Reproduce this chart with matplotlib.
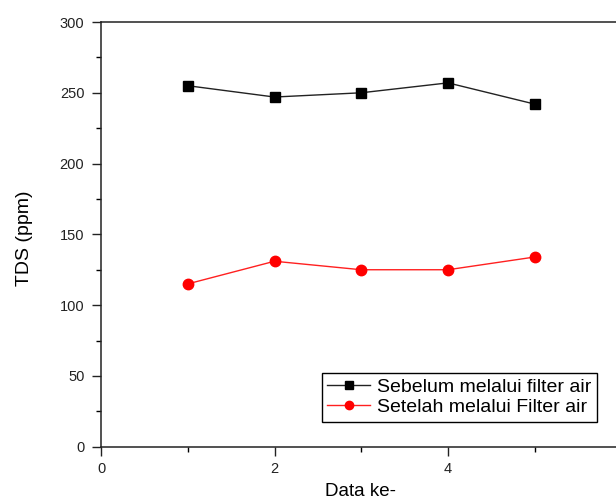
import matplotlib
matplotlib.use("Agg")
import matplotlib.pyplot as plt
from matplotlib.ticker import MultipleLocator, FixedLocator

plt.rcParams["font.family"] = ["Liberation Sans", "DejaVu Sans"]

data_ke = [1, 2, 3, 4, 5]
sebelum = [255, 247, 250, 257, 242]
setelah = [115, 131, 125, 125, 134]

label_sebelum = "Sebelum melalui filter air"
label_setelah = "Setelah melalui Filter air"

W, H = 616, 504
fig = plt.figure(figsize=(W / 100, H / 100), dpi=100)

# axes extend a bit past the right edge of the image, as in the original
left, right, top, bottom = 101, 101 + 6 * 86.75, 22, 446.7
ax = fig.add_axes([left / W, 1 - bottom / H, (right - left) / W, (bottom - top) / H])

ax.plot(data_ke, sebelum, color="#222222", lw=1.0, marker="s", ms=7,
        mfc="black", mec="black", label=label_sebelum)
ax.plot(data_ke, setelah, color="#ff2020", lw=1.0, marker="o", ms=7.5,
        mfc="red", mec="red", label=label_setelah)

ax.set_xlim(0, 6)
ax.set_ylim(0, 300)
ax.xaxis.set_major_locator(FixedLocator([0, 2, 4]))
ax.xaxis.set_minor_locator(FixedLocator([1, 3, 5]))
ax.yaxis.set_major_locator(MultipleLocator(50))
ax.yaxis.set_minor_locator(MultipleLocator(25))

ax.tick_params(which="major", direction="out", length=6.5, width=1.0,
               labelsize=10.5, colors="#222222")
ax.tick_params(which="minor", direction="out", length=3.3, width=1.0)
ax.tick_params(axis="y", which="major", pad=5.5)
ax.tick_params(axis="x", which="major", pad=4.3)
for s in ax.spines.values():
    s.set_linewidth(1.1)
    s.set_color("#222222")

ax.set_xlabel("Data ke-", fontsize=13.5)
ax.set_ylabel("TDS (ppm)", fontsize=14)
ax.xaxis.set_label_coords(0.498, (bottom - 483) / (bottom - top))
ax.yaxis.set_label_coords((33 - left) / (right - left), 0.49)

leg = ax.legend(loc="upper left", bbox_to_anchor=(322 / W, 1 - 372.7 / H),
                bbox_transform=fig.transFigure, fontsize=14, frameon=True,
                fancybox=False, framealpha=1, edgecolor="black",
                handlelength=2.2, handletextpad=0.35, labelspacing=0.15,
                borderpad=0.28, borderaxespad=0, markerscale=0.8)
leg.get_frame().set_linewidth(1.0)

fig.savefig("out.png", dpi=100)
